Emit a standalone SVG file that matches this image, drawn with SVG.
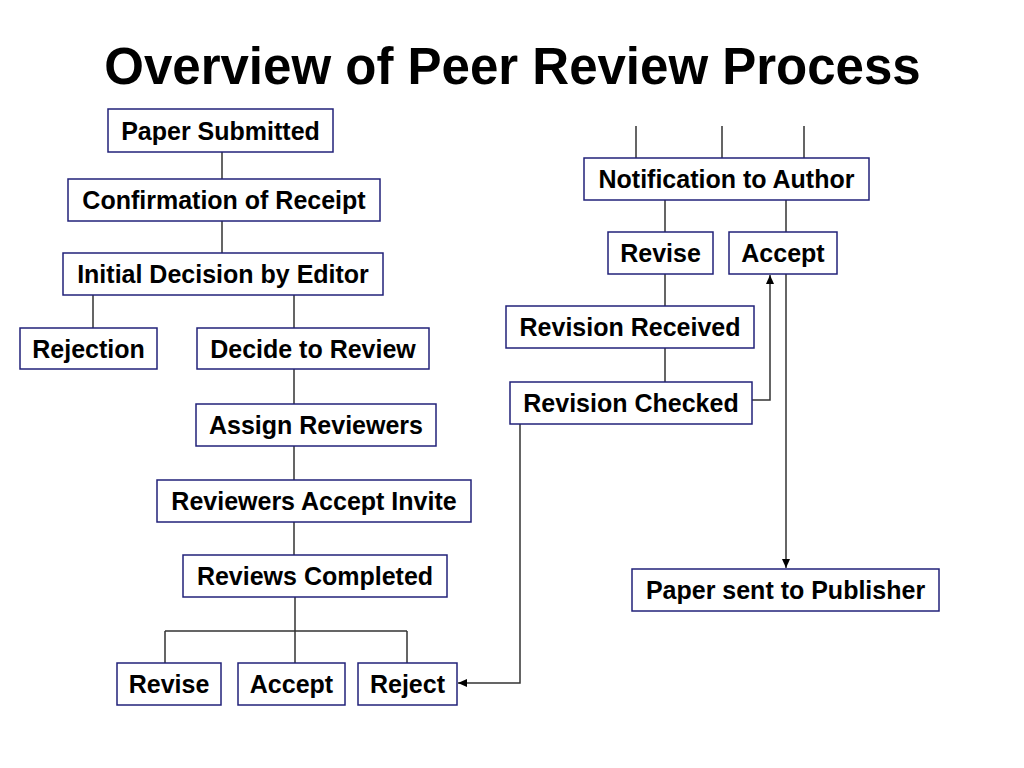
<svg xmlns="http://www.w3.org/2000/svg" width="1024" height="768" viewBox="0 0 1024 768">
<style>
.box{fill:#fff;stroke:#22227a;stroke-width:1.5}
.lbl{font-family:"Liberation Sans",Arial,sans-serif;font-weight:bold;font-size:25px;fill:#000;text-anchor:middle}
.title{font-family:"Liberation Sans",Arial,sans-serif;font-weight:bold;font-size:51px;fill:#000;text-anchor:middle}
.ln{fill:none;stroke:#333;stroke-width:1.5}
</style>
<defs>
<marker id="ah" markerUnits="userSpaceOnUse" markerWidth="10" markerHeight="8" refX="9" refY="4" orient="auto">
<path d="M0,0 L9,4 L0,8 Z" fill="#000"/>
</marker>
</defs>
<rect width="1024" height="768" fill="#fff"/>
<text class="title" x="512.5" y="83.5">Overview of Peer Review Process</text>
<g id="connectors">
<path class="ln" d="M222,152 V179 M222,221 V253 M93,295 V328 M294,295 V328 M294,369 V404 M294,446 V480 M294,522 V555 M295,597 V663 M165,631 H407 M165,631 V663 M407,631 V663"/>
<path class="ln" d="M636,126 V158 M722,126 V158 M804,126 V158 M665,200 V232 M786,200 V232 M665,274 V306 M665,348 V382"/>
<path class="ln" d="M752,400 H770 V275" marker-end="url(#ah)"/>
<path class="ln" d="M786,274 V568" marker-end="url(#ah)"/>
<path class="ln" d="M520,424 V683 H458" marker-end="url(#ah)"/>
</g>
<g id="paper-submitted"><rect class="box" x="108" y="109" width="225" height="43"/><text class="lbl" x="220.5" y="139.5">Paper Submitted</text></g>
<g id="confirmation"><rect class="box" x="68" y="179" width="312" height="42"/><text class="lbl" x="224" y="209">Confirmation of Receipt</text></g>
<g id="initial-decision"><rect class="box" x="63" y="253" width="320" height="42"/><text class="lbl" x="223" y="283">Initial Decision by Editor</text></g>
<g id="rejection"><rect class="box" x="20" y="328" width="137" height="41"/><text class="lbl" x="88.5" y="357.5">Rejection</text></g>
<g id="decide-review"><rect class="box" x="197" y="328" width="232" height="41"/><text class="lbl" x="313" y="357.5">Decide to Review</text></g>
<g id="assign-reviewers"><rect class="box" x="196" y="404" width="240" height="42"/><text class="lbl" x="316" y="434">Assign Reviewers</text></g>
<g id="reviewers-accept"><rect class="box" x="157" y="480" width="314" height="42"/><text class="lbl" x="314" y="510">Reviewers Accept Invite</text></g>
<g id="reviews-completed"><rect class="box" x="183" y="555" width="264" height="42"/><text class="lbl" x="315" y="585">Reviews Completed</text></g>
<g id="revise-left"><rect class="box" x="117" y="663" width="104" height="42"/><text class="lbl" x="169" y="693">Revise</text></g>
<g id="accept-left"><rect class="box" x="238" y="663" width="107" height="42"/><text class="lbl" x="291.5" y="693">Accept</text></g>
<g id="reject"><rect class="box" x="358" y="663" width="99" height="42"/><text class="lbl" x="407.5" y="693">Reject</text></g>
<g id="notification"><rect class="box" x="584" y="158" width="285" height="42"/><text class="lbl" x="726.5" y="188">Notification to Author</text></g>
<g id="revise-right"><rect class="box" x="608" y="232" width="105" height="42"/><text class="lbl" x="660.5" y="262">Revise</text></g>
<g id="accept-right"><rect class="box" x="729" y="232" width="108" height="42"/><text class="lbl" x="783" y="262">Accept</text></g>
<g id="revision-received"><rect class="box" x="506" y="306" width="248" height="42"/><text class="lbl" x="630" y="336">Revision Received</text></g>
<g id="revision-checked"><rect class="box" x="510" y="382" width="242" height="42"/><text class="lbl" x="631" y="412">Revision Checked</text></g>
<g id="paper-sent"><rect class="box" x="632" y="569" width="307" height="42"/><text class="lbl" x="785.5" y="599">Paper sent to Publisher</text></g>
</svg>
